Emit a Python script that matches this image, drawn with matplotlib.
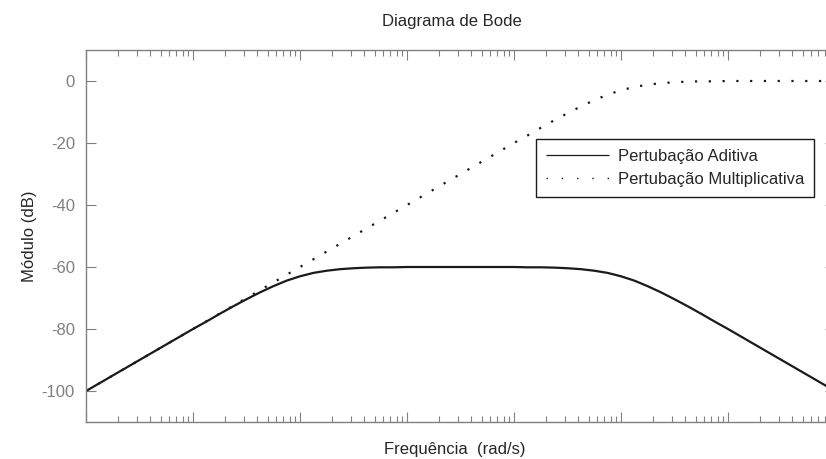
import numpy as np
import matplotlib
matplotlib.use("Agg")
from matplotlib import pyplot as plt
from matplotlib.ticker import LogLocator, NullFormatter

plt.rcParams['font.family'] = ['Liberation Sans', 'DejaVu Sans']
plt.rcParams['axes.unicode_minus'] = False

# frequencies in rad/s, eighth-decade steps from 1e-4 to 1e3
freq = [1e-4, 1.334e-4, 1.778e-4, 2.371e-4, 3.162e-4, 4.217e-4, 5.623e-4, 7.499e-4,
        1e-3, 1.334e-3, 1.778e-3, 2.371e-3, 3.162e-3, 4.217e-3, 5.623e-3, 7.499e-3,
        1e-2, 1.334e-2, 1.778e-2, 2.371e-2, 3.162e-2, 4.217e-2, 5.623e-2, 7.499e-2,
        1e-1, 1.334e-1, 1.778e-1, 2.371e-1, 3.162e-1, 4.217e-1, 5.623e-1, 7.499e-1,
        1e0, 1.334e0, 1.778e0, 2.371e0, 3.162e0, 4.217e0, 5.623e0, 7.499e0,
        1e1, 1.334e1, 1.778e1, 2.371e1, 3.162e1, 4.217e1, 5.623e1, 7.499e1,
        1e2, 1.334e2, 1.778e2, 2.371e2, 3.162e2, 4.217e2, 5.623e2, 7.499e2,
        1e3]

# modulus in dB
aditiva = [-100.0, -97.5, -95.0, -92.5, -90.0, -87.5, -85.0, -82.5,
           -80.0, -77.6, -75.1, -72.7, -70.4, -68.2, -66.2, -64.4,
           -63.0, -61.9, -61.2, -60.7, -60.4, -60.2, -60.1, -60.1,
           -60.0, -60.0, -60.0, -60.0, -60.0, -60.0, -60.0, -60.0,
           -60.0, -60.1, -60.1, -60.2, -60.4, -60.7, -61.2, -61.9,
           -63.0, -64.4, -66.2, -68.2, -70.4, -72.7, -75.1, -77.6,
           -80.0, -82.5, -85.0, -87.5, -90.0, -92.5, -95.0, -97.5,
           -100.0]

multiplicativa = [-100.0, -97.5, -95.0, -92.5, -90.0, -87.5, -85.0, -82.5,
                  -80.0, -77.5, -75.0, -72.5, -70.0, -67.5, -65.0, -62.5,
                  -60.0, -57.5, -55.0, -52.5, -50.0, -47.5, -45.0, -42.5,
                  -40.0, -37.5, -35.0, -32.5, -30.0, -27.5, -25.0, -22.5,
                  -20.0, -17.6, -15.1, -12.7, -10.4, -8.2, -6.2, -4.4,
                  -3.0, -1.9, -1.2, -0.7, -0.4, -0.2, -0.1, -0.1,
                  0.0, 0.0, 0.0, 0.0, 0.0, 0.0, 0.0, 0.0,
                  0.0]

yticks = [-100, -80, -60, -40, -20, 0]

gray = '#808080'

fig = plt.figure(figsize=(8.26, 4.59), dpi=100)
ax = fig.add_axes([86/826, 37/459, 749/826, 372/459])

ax.semilogx(freq, aditiva, color='#1a1a1a', lw=1.6, solid_capstyle='butt',
            label='Pertubação Aditiva')
ax.semilogx(freq, multiplicativa, color='#1a1a1a', lw=1.6,
            linestyle=(0, (1.0, 5.2)), dash_capstyle='butt',
            label='Pertubação Multiplicativa')

ax.set_xlim(1e-4, 1e3)
ax.set_ylim(-110, 10)
ax.set_yticks(yticks)

ax.xaxis.set_major_locator(LogLocator(base=10, numticks=20))
ax.xaxis.set_minor_locator(LogLocator(base=10, subs=np.arange(2, 10), numticks=20))
ax.xaxis.set_major_formatter(NullFormatter())
ax.xaxis.set_minor_formatter(NullFormatter())

ax.tick_params(axis='both', which='both', direction='in', colors=gray,
               top=True, right=True, labelsize=12, width=0.8)
ax.tick_params(axis='both', which='major', length=7, pad=8)
ax.tick_params(axis='x', which='minor', length=4)
for sp in ax.spines.values():
    sp.set_color(gray)
    sp.set_linewidth(1.0)

ax.set_title('Diagrama de Bode', fontsize=12, color='#262626', x=0.489, pad=17)
ax.set_xlabel('Frequência  (rad/s)', fontsize=12, color='#262626')
ax.xaxis.set_label_coords(0.492, -0.055)
ax.set_ylabel('Módulo (dB)', fontsize=12, color='#262626', labelpad=3)

leg = ax.legend(loc='upper left', bbox_to_anchor=(0.601, 0.761),
                borderaxespad=0, fontsize=12, frameon=True, fancybox=False,
                edgecolor='#1a1a1a', framealpha=1, handlelength=3.8,
                handletextpad=0.5, borderpad=0.6, labelspacing=0.5)
leg.get_frame().set_linewidth(1.0)
for t in leg.get_texts():
    t.set_color('#262626')
handles = leg.get_lines()
handles[0].set_linewidth(0.9)
handles[1].set_linewidth(1.0)
handles[1].set_linestyle((0, (1.0, 10.0)))

fig.savefig('out.png', dpi=100)
